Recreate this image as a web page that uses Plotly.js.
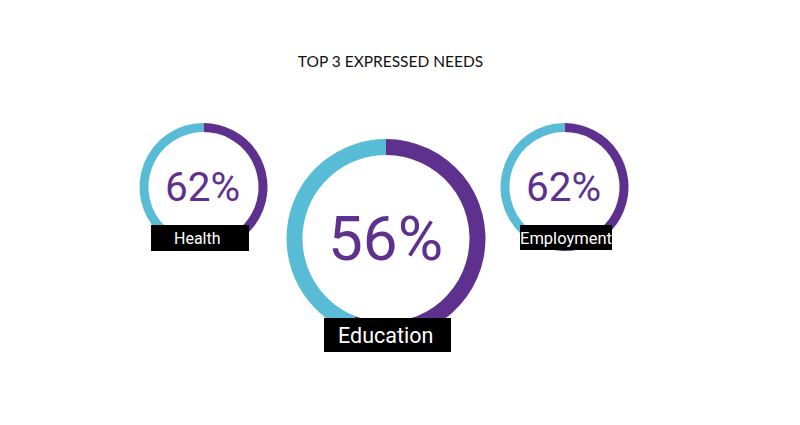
<!DOCTYPE html>
<html>
<head>
<meta charset="utf-8">
<script src="https://cdn.plot.ly/plotly-3.0.1.min.js"></script>
<style>
  html, body { margin: 0; padding: 0; background: #fff; }
  #chart { width: 800px; height: 425px; }
</style>
</head>
<body>
<div id="chart"></div>
<script>
// Top expressed needs: share of respondents per need
const needs = ["Health", "Education", "Employment"];
const shares = [62, 56, 62];

const PURPLE = "#5f318f";
const CYAN = "#58bcd7";
const W = 800, H = 425;

// Layout of each ring in pixels (centre, outer radius, ring thickness, fonts, label box)
const rings = [
  { cx: 203.5, cy: 187, r: 64, thick: 9, pctSize: 40.5, lblSize: 16,
    box: [151, 225, 249, 251], lblX: 197, lblY: 238.5 },
  { cx: 386, cy: 238.5, r: 99.5, thick: 16, pctSize: 62, lblSize: 21.5,
    box: [324, 318, 451, 352], lblX: 385, lblY: 335 },
  { cx: 564.5, cy: 187, r: 64, thick: 9, pctSize: 40.5, lblSize: 16.5,
    box: [520, 225, 612, 250], lblX: 566, lblY: 238 }
];

const px = x => x / W;
const py = y => 1 - y / H;

const traces = needs.map((name, i) => {
  const g = rings[i];
  return {
    type: "pie",
    name: name,
    values: [shares[i], 100 - shares[i]],
    labels: [name, "Other"],
    sort: false,
    direction: "clockwise",
    rotation: 0,
    hole: 1 - g.thick / g.r,
    textinfo: "none",
    hoverinfo: "label+value",
    showlegend: false,
    marker: { colors: [PURPLE, CYAN], line: { width: 0 } },
    domain: {
      x: [px(g.cx - g.r), px(g.cx + g.r)],
      y: [py(g.cy + g.r), py(g.cy - g.r)]
    }
  };
});

const annotations = [];
const shapes = [];
needs.forEach((name, i) => {
  const g = rings[i];
  annotations.push({
    xref: "paper", yref: "paper",
    x: px(g.cx - 1), y: py(g.cy),
    xanchor: "center", yanchor: "middle",
    text: shares[i] + "%",
    showarrow: false,
    font: { family: "Roboto, sans-serif", size: g.pctSize, color: PURPLE }
  });
  shapes.push({
    type: "rect", xref: "paper", yref: "paper",
    x0: px(g.box[0]), x1: px(g.box[2]),
    y0: py(g.box[3]), y1: py(g.box[1]),
    fillcolor: "#000", line: { width: 0 }, layer: "above"
  });
  annotations.push({
    xref: "paper", yref: "paper",
    x: px(g.lblX), y: py(g.lblY),
    xanchor: "center", yanchor: "middle",
    text: name,
    showarrow: false,
    font: { family: "Roboto, sans-serif", size: g.lblSize, color: "#fff" }
  });
});

const layout = {
  width: W, height: H,
  margin: { l: 0, r: 0, t: 0, b: 0 },
  paper_bgcolor: "#fff",
  title: {
    text: "TOP 3 EXPRESSED NEEDS",
    x: px(390.5), xanchor: "center",
    y: py(62), yanchor: "middle",
    font: { family: "Lato, sans-serif", size: 15.5, color: "#111" }
  },
  shapes: shapes,
  annotations: annotations
};

Plotly.newPlot("chart", traces, layout, { displayModeBar: false, staticPlot: true });
</script>
</body>
</html>
